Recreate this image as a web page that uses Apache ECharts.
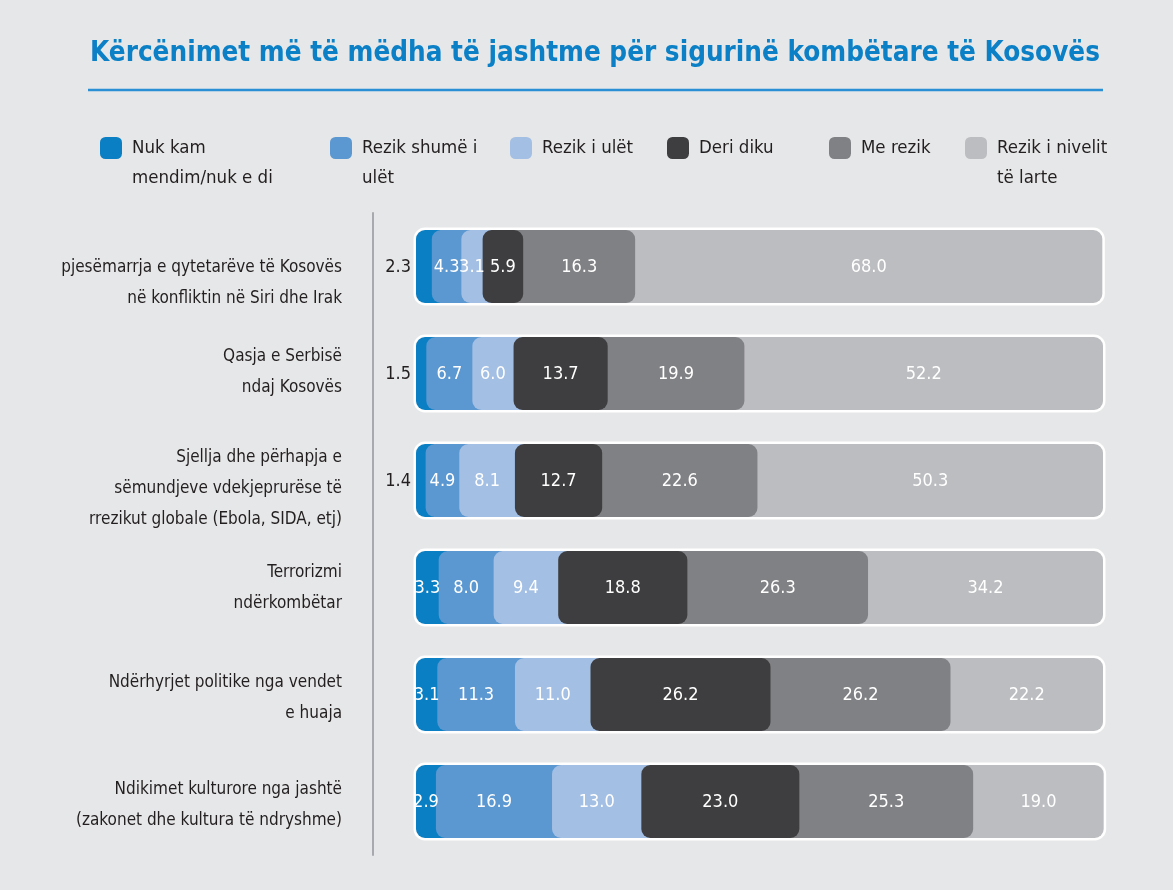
<!DOCTYPE html>
<html>
<head>
<meta charset="utf-8">
<script src="https://cdn.jsdelivr.net/npm/echarts@6/dist/echarts.min.js"></script>
<style>
html,body{margin:0;padding:0;background:#e6e7e8;}
#chart{width:1173px;height:890px;}
</style>
</head>
<body>
<div id="chart"></div>
<script>
const titleText = 'Kërcënimet më të mëdha të jashtme për sigurinë kombëtare të Kosovës';
const categories = [
  'pjesëmarrja e qytetarëve të Kosovës\nnë konfliktin në Siri dhe Irak',
  'Qasja e Serbisë\nndaj Kosovës',
  'Sjellja dhe përhapja e\nsëmundjeve vdekjeprurëse të\nrrezikut globale (Ebola, SIDA, etj)',
  'Terrorizmi\nndërkombëtar',
  'Ndërhyrjet politike nga vendet\ne huaja',
  'Ndikimet kulturore nga jashtë\n(zakonet dhe kultura të ndryshme)'
];
const seriesNames = ['Nuk kam\nmendim/nuk e di', 'Rezik shumë i\nulët', 'Rezik i ulët', 'Deri diku', 'Me rezik', 'Rezik i nivelit\ntë larte'];
const noOpinion = [2.3, 1.5, 1.4, 3.3, 3.1, 2.9];
const veryLow   = [4.3, 6.7, 4.9, 8.0, 11.3, 16.9];
const low       = [3.1, 6.0, 8.1, 9.4, 11.0, 13.0];
const somewhat  = [5.9, 13.7, 12.7, 18.8, 26.2, 23.0];
const risky     = [16.3, 19.9, 22.6, 26.3, 26.2, 25.3];
const high      = [68.0, 52.2, 50.3, 34.2, 22.2, 19.0];

// style only: offset of each category label's first line from the bar centre
const labelFirstLine = [1.5, -16.5, -22.5, -14.5, -11.5, -11.5];

const colors = ['#0a7fc3', '#5b97d0', '#a3bfe3', '#3e3e40', '#808184', '#bcbdc0'];
const FONT = '"Liberation Sans Narrow", "DejaVu Sans Condensed", sans-serif';
const TXT = '#231f20';
const DARK = 3;
const R = 9;
const AX_LH = 31;

const values = [noOpinion, veryLow, low, somewhat, risky, high];
const segData = values.map(() => []);
const totals = [];
categories.forEach((c, row) => {
  let acc = 0;
  values.forEach((arr, s) => {
    segData[s].push([row, acc, acc + arr[row], arr[row]]);
    acc += arr[row];
  });
  totals.push([row, acc]);
});

function makeRender(segIdx) {
  return function (params, api) {
    const row = api.value(0), st = api.value(1), en = api.value(2), v = api.value(3);
    const p0 = api.coord([st, row]);
    const p1 = api.coord([en, row]);
    const h = api.size([0, 1])[1] * 0.68;
    const y = p0[1] - h / 2;
    let x0 = p0[0], x1 = p1[0], r;
    if (segIdx < DARK) { x1 += R; r = [R, 0, 0, R]; }
    else if (segIdx > DARK) { x0 -= R; r = [0, R, R, 0]; }
    else { r = R; }
    const z2 = segIdx === DARK ? 30 : (segIdx < DARK ? 10 + segIdx : 20 - segIdx);
    const outside = segIdx === 0 && v < 2.5;
    return {
      type: 'group',
      children: [
        {
          type: 'rect',
          z2: z2,
          shape: { x: x0, y: y, width: x1 - x0, height: h, r: r },
          style: { fill: colors[segIdx] }
        },
        {
          type: 'text',
          z2: 100,
          style: {
            x: outside ? p0[0] - 5 : (p0[0] + p1[0]) / 2,
            y: p0[1] + 1,
            text: v.toFixed(1),
            fill: outside ? TXT : '#ffffff',
            fontSize: 18,
            fontFamily: FONT,
            align: outside ? 'right' : 'center',
            verticalAlign: 'middle'
          }
        }
      ]
    };
  };
}

function renderOutline(params, api) {
  const row = api.value(0), tot = api.value(1);
  const p0 = api.coord([0, row]);
  const p1 = api.coord([tot, row]);
  const h = api.size([0, 1])[1] * 0.68;
  const pad = 2.5;
  return {
    type: 'rect',
    z2: 1,
    shape: { x: p0[0] - pad, y: p0[1] - h / 2 - pad, width: p1[0] - p0[0] + 2 * pad, height: h + 2 * pad, r: R + pad },
    style: { fill: '#ffffff' }
  };
}

const series = [{
  type: 'custom',
  name: 'outline',
  silent: true,
  renderItem: renderOutline,
  data: totals,
  encode: { x: 1, y: 0 }
}];
seriesNames.forEach((n, s) => {
  series.push({
    type: 'custom',
    name: n,
    silent: true,
    itemStyle: { color: colors[s] },
    renderItem: makeRender(s),
    data: segData[s],
    encode: { x: [1, 2], y: 0 }
  });
});

const legendLeft = [100, 330, 510, 667, 829, 965];
const LH = 30;
const legends = seriesNames.map((n, s) => {
  const multi = n.indexOf('\n') >= 0;
  return {
    show: true,
    selectedMode: false,
    left: legendLeft[s],
    top: multi ? 137 - 34 : 137 - 4,
    padding: 0,
    icon: 'roundRect',
    itemWidth: 22,
    itemHeight: 22,
    formatter: function (name) { return multi ? ' \n' + name : name; },
    textStyle: { color: TXT, fontSize: 18.5, fontFamily: FONT, lineHeight: LH, padding: [0, 0, 0, 5] },
    data: [n]
  };
});

const yData = categories.map((c, i) => ({
  value: c,
  textStyle: { verticalAlign: 'top', padding: [labelFirstLine[i] - AX_LH / 2, 0, 0, 0] }
}));

const chart = echarts.init(document.getElementById('chart'), null, { renderer: 'canvas' });
chart.setOption({
  backgroundColor: '#e6e7e8',
  animation: false,
  title: {
    text: titleText,
    left: 590,
    top: 35,
    textAlign: 'center',
    textStyle: { color: '#0b80c6', fontSize: 27.6, fontWeight: 'bold', fontFamily: FONT }
  },
  graphic: [{
    type: 'line',
    shape: { x1: 88, y1: 90, x2: 1103, y2: 90 },
    style: { stroke: '#2a8fd4', lineWidth: 2.5 }
  }],
  legend: legends,
  grid: { left: 416, right: 70, top: 213, bottom: 35, containLabel: false, outerBoundsMode: 'none' },
  xAxis: { type: 'value', min: 0, max: 100, show: false },
  yAxis: {
    type: 'category',
    data: yData,
    inverse: true,
    offset: 43,
    axisTick: { show: false },
    splitLine: { show: false },
    axisLine: { show: true, onZero: false, lineStyle: { color: '#a7a9ac', width: 2 } },
    axisLabel: { color: TXT, fontSize: 17, lineHeight: AX_LH, margin: 31, fontFamily: FONT, align: 'right' }
  },
  series: series
});
</script>
</body>
</html>
